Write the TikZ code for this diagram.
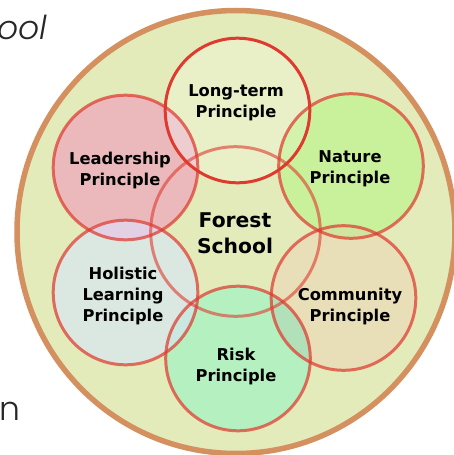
\documentclass[tikz,border=0pt]{standalone}
\usepackage{fontspec}
\setmainfont{DejaVu Sans}
\newfontfamily\cutfont{Poppins Light}[ItalicFont={Poppins Light Italic}]
\definecolor{bgc}{HTML}{E3EBBB}
\definecolor{ringc}{HTML}{D4915F}
\definecolor{linec}{HTML}{DF3A30}
\definecolor{ltc}{HTML}{E9F0C8}
\definecolor{ldc}{HTML}{EBB9BC}
\definecolor{nac}{HTML}{C9F09A}
\definecolor{hoc}{HTML}{DBE7E1}
\definecolor{coc}{HTML}{E8DFB8}
\definecolor{ric}{HTML}{B4F0C0}
\tikzset{
 lab/.style={font=\fontsize{16.3}{21}\selectfont\bfseries,align=center,text=black,inner sep=0pt},
 big/.style={font=\fontsize{20.3}{26}\selectfont\bfseries,align=center,text=black,inner sep=0pt},
 cut/.style={font=\fontsize{33}{34}\selectfont\cutfont,text=black!85,inner sep=0pt,anchor=base east},
 ol/.style={draw=linec,draw opacity=.72,line width=3pt,fill=none},
}
\def\LT{(237.5,110.5) circle[radius=72.3]}
\def\LD{(125.5,167.5) circle[radius=72.3]}
\def\NA{(351,166) circle[radius=72.3]}
\def\HO{(125.5,292.5) circle[radius=72.3]}
\def\CO{(343.5,298) circle[radius=72.3]}
\def\RI{(238,358.5) circle[radius=72.3]}
\def\FO{(235.5,231.5) circle[radius=84.8]}
\newcommand{\overlapfill}[3]{\begin{scope}\clip #1;\fill[#3] #2;\end{scope}}
\begin{document}
\begin{tikzpicture}[x=1pt,y=-1pt]
\useasboundingbox (0,0) rectangle (454,455);
\node[cut] (ool) at (47.5,39.5) {\itshape ool};
\node[cut] (inw) at (21,420) {in};
\begin{scope}
\clip (0,0) rectangle (454,455);
\draw[fill=bgc,draw=ringc,line width=5.5pt] (236,232) ellipse[x radius=219,y radius=221.5];
\end{scope}
\fill[ltc] \LT;
\fill[ldc] \LD;
\fill[nac] \NA;
\fill[hoc] \HO;
\fill[coc] \CO;
\fill[ric] \RI;
\overlapfill{\LT}{\LD}{fill={rgb,255:red,237;green,205;blue,208}}
\overlapfill{\LT}{\NA}{fill={rgb,255:red,211;green,242;blue,171}}
\overlapfill{\LD}{\HO}{fill={rgb,255:red,226;green,208;blue,228}}
\overlapfill{\HO}{\RI}{fill={rgb,255:red,200;green,232;blue,224}}
\overlapfill{\RI}{\CO}{fill={rgb,255:red,178;green,224;blue,184}}
\overlapfill{\NA}{\CO}{fill={rgb,255:red,208;green,229;blue,159}}
\draw[ol] \LD;
\draw[ol] \NA;
\draw[ol] \HO;
\draw[ol] \CO;
\draw[ol] \RI;
\draw[ol,draw opacity=.6] \FO;
\draw[ol,draw opacity=1] \LT;
\node[lab] (longterm) at (236,103) {Long-term\\Principle};
\node[lab] (leadership) at (120,170.5) {Leadership\\Principle};
\node[lab] (nature) at (350,168.5) {Nature\\Principle};
\node[lab] (holistic) at (123,295.5) {Holistic\\Learning\\Principle};
\node[lab] (community) at (350,306) {Community\\Principle};
\node[lab] (risk) at (236,366.5) {Risk\\Principle};
\node[big] (forest) at (235,233) {Forest\\School};
\end{tikzpicture}
\end{document}
